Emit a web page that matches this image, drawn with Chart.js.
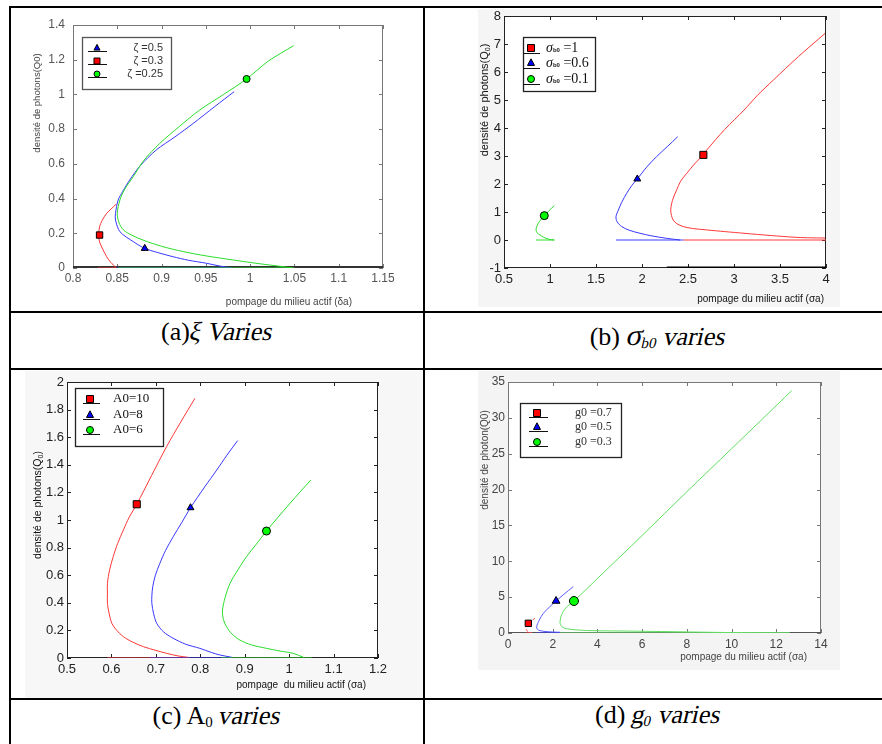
<!DOCTYPE html>
<html><head><meta charset="utf-8">
<script src="https://cdn.jsdelivr.net/npm/chart.js@4.4.1/dist/chart.umd.min.js"></script>
<style>
body{margin:0;width:882px;height:744px;background:#fff;position:relative;overflow:hidden;font-family:"Liberation Serif",serif;}
.ln{position:absolute;background:#000;}
canvas{position:absolute;}
.cap{position:absolute;text-align:center;font-size:26px;line-height:30px;color:#000;white-space:nowrap;font-family:"Liberation Serif","Times New Roman",serif;}
.it{display:inline-block;font-style:normal;transform:skewX(-13deg);}
.cap sub{font-size:15px;vertical-align:-3px;line-height:0;}
</style></head><body>
<div class="ln" style="left:9px;top:6px;width:873px;height:2px"></div>
<div class="ln" style="left:9px;top:6px;width:2px;height:738px"></div>
<div class="ln" style="left:423px;top:6px;width:2px;height:738px"></div>
<div class="ln" style="left:9px;top:311px;width:873px;height:2px"></div>
<div class="ln" style="left:9px;top:368px;width:873px;height:2px"></div>
<div class="ln" style="left:9px;top:698px;width:873px;height:2px"></div>

<canvas id="ca" width="410" height="301" style="left:12px;top:9px"></canvas>
<canvas id="cb" width="362" height="298" style="left:478px;top:9px"></canvas>
<canvas id="cc" width="398" height="327" style="left:25px;top:371px"></canvas>
<canvas id="cd" width="362" height="299" style="left:478px;top:371px"></canvas>

<div class="cap" style="left:11px;width:412px;top:317px">(a)<span class="it">ξ Varies</span></div>
<div class="cap" style="left:440px;width:436px;top:320px">(b) <span class="it"><span style="font-size:30px">σ</span><sub>b0</sub></span> <span class="it">varies</span></div>
<div class="cap" style="left:11px;width:412px;top:701px">(c) A<sub>0</sub> <span class="it">varies</span></div>
<div class="cap" style="left:440px;width:436px;top:700px">(d) <span class="it">g<sub>0</sub></span> <span class="it">varies</span></div>

<script>
// ---------------- DATA ----------------
// (a) xi varies
const aXTicks = ['0.8','0.85','0.9','0.95','1','1.05','1.1','1.15'];
const aYTicks = ['0','0.2','0.4','0.6','0.8','1','1.2','1.4'];
const aZeta05 = [[0.982,1.016],[0.96,0.93],[0.936,0.834],[0.915,0.755],[0.894,0.680],[0.876,0.59],[0.864,0.507],[0.856,0.44],[0.851,0.392],[0.848,0.315],[0.848,0.276],[0.853,0.209],[0.868,0.152],[0.881,0.113],[0.895,0.09],[0.913,0.065],[0.93,0.045],[0.951,0.027],[0.965,0.012],[0.979,0.0]];
const aZeta03 = [[0.849,0.369],[0.843,0.34],[0.838,0.315],[0.833,0.275],[0.830,0.238],[0.829,0.19],[0.830,0.15],[0.834,0.104],[0.838,0.065],[0.842,0.036],[0.846,0.015],[0.849,0]];
const aZeta025 = [[1.049,1.281],[1.02,1.19],[0.996,1.089],[0.97,1.0],[0.943,0.910],[0.92,0.815],[0.898,0.718],[0.88,0.62],[0.868,0.526],[0.858,0.45],[0.853,0.392],[0.850,0.315],[0.852,0.26],[0.857,0.219],[0.866,0.19],[0.879,0.161],[0.90,0.125],[0.925,0.094],[0.95,0.07],[0.981,0.046],[1.01,0.025],[1.037,0.008],[1.048,0.0]];
const aBase05 = [[0.849,0],[0.979,0]];
const aBase03 = [[0.828,0],[0.849,0]];
const aBase025 = [[0.851,0],[1.05,0]];
const aMark05 = [[0.881,0.113]];
const aMark03 = [[0.830,0.19]];
const aMark025 = [[0.996,1.089]];
const aLabels = ['ζ =0.5','ζ =0.3','ζ =0.25'];

// (b) sigma_b0 varies
const bXTicks = ['0.5','1','1.5','2','2.5','3','3.5','4'];
const bYTicks = ['-1','0','1','2','3','4','5','6','7','8'];
const bSig1 = [[3.99,7.38],[3.7,6.55],[3.427,5.71],[3.25,5.15],[3.109,4.64],[2.9,3.95],[2.703,3.21],[2.667,3.04],[2.58,2.75],[2.486,2.38],[2.42,2.1],[2.377,1.79],[2.34,1.5],[2.323,1.31],[2.312,1.07],[2.32,0.88],[2.34,0.71],[2.38,0.58],[2.449,0.48],[2.55,0.41],[2.703,0.36],[2.9,0.30],[3.109,0.24],[3.4,0.16],[3.652,0.10],[3.8,0.08],[3.99,0.07]];
const bSig06 = [[2.388,3.69],[2.28,3.35],[2.159,2.98],[2.05,2.6],[1.949,2.18],[1.89,1.95],[1.834,1.67],[1.78,1.35],[1.743,1.07],[1.717,0.83],[1.73,0.65],[1.779,0.48],[1.86,0.35],[1.978,0.24],[2.1,0.15],[2.268,0.06],[2.413,0]];
const bSig01 = [[1.047,1.23],[0.99,1.05],[0.938,0.87],[0.90,0.72],[0.873,0.60],[0.855,0.47],[0.848,0.36],[0.86,0.26],[0.891,0.18],[0.93,0.1],[0.982,0.03],[1.047,0]];
const bBase1 = [[2.45,0],[4,0]];
const bBase06 = [[1.717,0],[2.45,0]];
const bBase01 = [[0.848,0],[1.047,0]];
const bMark1 = [[2.667,3.04]];
const bMark06 = [[1.949,2.18]];
const bMark01 = [[0.938,0.87]];
const bAxisBar = [[2.27,-1],[4,-1]];
const bLabels = ['=1','=0.6','=0.1'];

// (c) A0 varies
const cXTicks = ['0.5','0.6','0.7','0.8','0.9','1','1.1','1.2'];
const cYTicks = ['0','0.2','0.4','0.6','0.8','1','1.2','1.4','1.6','1.8','2'];
const cA10 = [[0.788,1.882],[0.756,1.71],[0.724,1.531],[0.69,1.32],[0.657,1.114],[0.64,1.02],[0.627,0.928],[0.614,0.83],[0.604,0.734],[0.596,0.64],[0.591,0.541],[0.591,0.47],[0.591,0.396],[0.595,0.32],[0.601,0.251],[0.612,0.2],[0.627,0.154],[0.648,0.115],[0.672,0.082],[0.7,0.055],[0.724,0.034],[0.75,0.015],[0.773,0.005]];
const cA8 = [[0.884,1.575],[0.86,1.47],[0.837,1.362],[0.81,1.24],[0.778,1.089],[0.758,0.98],[0.739,0.879],[0.722,0.78],[0.709,0.686],[0.699,0.6],[0.693,0.517],[0.691,0.45],[0.691,0.396],[0.695,0.32],[0.702,0.251],[0.717,0.19],[0.739,0.143],[0.767,0.1],[0.799,0.070],[0.825,0.04],[0.844,0.022],[0.871,0.005]];
const cA6 = [[1.049,1.290],[1.025,1.205],[1.002,1.121],[0.975,1.02],[0.949,0.920],[0.925,0.82],[0.904,0.734],[0.885,0.64],[0.867,0.541],[0.856,0.44],[0.850,0.348],[0.852,0.28],[0.859,0.227],[0.871,0.175],[0.889,0.130],[0.915,0.095],[0.949,0.070],[0.98,0.05],[1.009,0.034],[1.032,0.005]];
const cBase10 = [[0.591,0],[0.775,0]];
const cBase8 = [[0.687,0],[0.871,0]];
const cBase6 = [[0.848,0],[1.051,0]];
const cMark10 = [[0.657,1.114]];
const cMark8 = [[0.778,1.089]];
const cMark6 = [[0.949,0.920]];
const cLabels = ['A0=10','A0=8','A0=6'];

// (d) g0 varies
const dXTicks = ['0','2','4','6','8','10','12','14'];
const dYTicks = ['0','5','10','15','20','25','30','35'];
const dG07 = [[1.21,2.05],[1.05,1.7],[0.91,1.35],[0.82,0.95],[0.80,0.65],[0.85,0.3],[0.95,0.1],[1.06,0]];
const dG05 = [[2.92,6.46],[2.5,5.4],[2.15,4.46],[1.85,3.6],[1.58,2.74],[1.4,1.8],[1.28,0.88],[1.32,0.5],[1.43,0.33],[1.7,0.2],[2.0,0.14],[2.33,0.1]];
const dG03 = [[12.69,33.79],[10,25.7],[8,19.7],[6,13.6],[4,7.6],[2.95,4.46],[2.65,3.7],[2.47,3.0],[2.36,2.2],[2.33,1.35],[2.42,0.85],[2.62,0.6],[3.0,0.45],[3.67,0.33],[5,0.28],[6.5,0.22],[8,0.15],[10,0.06],[12.6,0]];
const dBase07 = [[0.80,0],[1.06,0]];
const dBase05 = [[1.28,0],[2.3,0]];
const dBase03 = [[2.33,0],[12.6,0]];
const dMark07 = [[0.91,1.35]];
const dMark05 = [[2.15,4.46]];
const dMark03 = [[2.95,4.46]];
const dLabels = ['g0 =0.7','g0 =0.5','g0 =0.3'];

// ---------------- STYLE ----------------
const RED='#ff3838', BLUE='#3838ff', GREEN='#2ade2a';
const MRED='#ff0000', MBLUE='#0000ff', MGREEN='#00ff00';
const SANS='"Liberation Sans", Arial, sans-serif';
const SERIF='"Liberation Serif", "Times New Roman", serif';
const panelCfg = {};

function drawRuns(ctx, runs, x, y, align){
  let total=0;
  runs.forEach(r=>{ctx.font=r.f; r.w=ctx.measureText(r.t).width; total+=r.w;});
  let sx = align==='right'? x-total : align==='center'? x-total/2 : x;
  ctx.textBaseline='middle'; ctx.textAlign='left';
  runs.forEach(r=>{ctx.font=r.f; ctx.fillText(r.t, sx, y+(r.dy||0)); sx+=r.w;});
}
function drawMarker(ctx, style, x, y, r, fill){
  ctx.save(); ctx.fillStyle=fill; ctx.strokeStyle='#000'; ctx.lineWidth=1;
  ctx.beginPath();
  if(style==='rect'){ctx.rect(x-r,y-r,2*r,2*r);}
  else if(style==='triangle'){ctx.moveTo(x,y-r*1.2);ctx.lineTo(x+r,y+r*0.7);ctx.lineTo(x-r,y+r*0.7);ctx.closePath();}
  else {ctx.arc(x,y,r,0,Math.PI*2);}
  ctx.fill(); ctx.stroke(); ctx.restore();
}

const panelPlugin = {
  id:'panelPlugin',
  beforeDraw(chart){
    const c=panelCfg[chart.canvas.id], ctx=chart.ctx, a=chart.chartArea;
    ctx.save(); ctx.fillStyle=c.bg; ctx.fillRect(0,0,chart.width,chart.height);
    ctx.fillStyle='#fff'; ctx.fillRect(a.left,a.top,a.right-a.left,a.bottom-a.top); ctx.restore();
  },
  beforeDatasetsDraw(chart){
    const c=panelCfg[chart.canvas.id], ctx=chart.ctx, a=chart.chartArea;
    const xs=chart.scales.x, ys=chart.scales.y;
    ctx.save(); ctx.strokeStyle=c.frame; ctx.lineWidth=1;
    ctx.strokeRect(a.left+0.5,a.top+0.5,a.right-a.left-1,a.bottom-a.top-1);
    ctx.beginPath();
    xs.ticks.forEach(t=>{const p=Math.round(xs.getPixelForValue(t.value))+0.5;
      ctx.moveTo(p,a.bottom); ctx.lineTo(p,a.bottom-4); ctx.moveTo(p,a.top); ctx.lineTo(p,a.top+4);});
    ys.ticks.forEach(t=>{const p=Math.round(ys.getPixelForValue(t.value))+0.5;
      ctx.moveTo(a.left,p); ctx.lineTo(a.left+4,p); ctx.moveTo(a.right,p); ctx.lineTo(a.right-4,p);});
    ctx.stroke();
    ctx.strokeStyle=c.bottomColor; ctx.lineWidth=c.bottomWidth;
    ctx.beginPath(); ctx.moveTo(a.left,a.bottom-c.bottomWidth/2); ctx.lineTo(a.right,a.bottom-c.bottomWidth/2); ctx.stroke();
    ctx.restore();
  },
  afterDraw(chart){
    const c=panelCfg[chart.canvas.id], ctx=chart.ctx, a=chart.chartArea;
    ctx.save();
    ctx.fillStyle=c.titleColor;
    drawRuns(ctx, c.xTitle.runs, c.xTitle.right, c.xTitle.cy, 'right');
    ctx.save(); ctx.translate(c.yTitle.cx, c.yTitle.cy); ctx.rotate(-Math.PI/2);
    drawRuns(ctx, c.yTitle.runs, 0, 0, 'center'); ctx.restore();
    const L=c.legend, bx=a.left+L.dx, by=a.top+L.dy;
    ctx.fillStyle='#fff'; ctx.fillRect(bx,by,L.w,L.h);
    ctx.strokeStyle=L.border; ctx.lineWidth=1.3; ctx.strokeRect(bx+0.5,by+0.5,L.w,L.h);
    L.entries.forEach((e,i)=>{
      const ry=by+L.rows[i];
      ctx.strokeStyle='#111'; ctx.lineWidth=1;
      ctx.beginPath(); ctx.moveTo(bx+L.line[0], ry+L.lineDy+0.5); ctx.lineTo(bx+L.line[1], ry+L.lineDy+0.5); ctx.stroke();
      drawMarker(ctx, e.m, bx+L.mx, ry, L.mr, e.c);
      ctx.fillStyle=L.color;
      drawRuns(ctx, e.runs, bx+L.tx, ry, L.align);
    });
    ctx.restore();
  }
};

function lineDs(pts,color,opts){
  return Object.assign({type:'scatter',data:pts.map(p=>({x:p[0],y:p[1]})),showLine:true,borderColor:color,
    backgroundColor:color,borderWidth:1,pointRadius:0,tension:0.3,fill:false},opts||{});
}
function markDs(pts,style,fill,r){
  return {type:'scatter',data:pts.map(p=>({x:p[0],y:p[1]})),showLine:false,pointStyle:style,
    pointRadius:r,backgroundColor:fill,borderColor:'#000',borderWidth:1,pointHoverRadius:r};
}

function makePanel(id, c){
  panelCfg[id]=c;
  const cv=document.getElementById(id), W=cv.width, H=cv.height, p=c.plot;
  const axis=(ticks,min,max,isX)=>({
    type:'linear', min:min, max:max, position:isX?'bottom':'left',
    afterBuildTicks:s=>{s.ticks=ticks.map(v=>({value:parseFloat(v)}));},
    afterFit:s=>{ if(isX){s.height=H-p.b;} else {s.width=p.l;}
      s.paddingLeft=0;s.paddingRight=0;s.paddingTop=0;s.paddingBottom=0;},
    grid:{display:false,drawTicks:false},
    border:{display:false},
    ticks:{autoSkip:false,maxRotation:0,minRotation:0,padding:isX?c.xPad:c.yPad,color:c.tickColor,
      font:{family:SANS,size:c.tickSize},callback:(v,i)=>ticks[i]}
  });
  new Chart(cv,{
    type:'scatter',
    data:{datasets:c.datasets},
    options:{responsive:false,animation:false,devicePixelRatio:1,
      layout:{padding:{left:0,top:p.t,right:W-p.r,bottom:0}},
      plugins:{legend:{display:false},tooltip:{enabled:false}},
      scales:{x:axis(c.xTicks,c.xMin,c.xMax,true), y:axis(c.yTicks,c.yMin,c.yMax,false)}
    },
    plugins:[panelPlugin]
  });
}

const ylab=(txt,size)=>[{t:txt,f:size+'px '+SANS}];
const ylabSub=(size)=>[{t:'densité de photons(Q',f:size+'px '+SANS},{t:'0',f:Math.round(size*0.65)+'px '+SANS,dy:3},{t:')',f:size+'px '+SANS}];
const sigRuns=(t)=>[{t:'σ',f:'italic 14px '+SERIF},{t:'b0',f:'bold 6px '+SANS,dy:2},{t:' '+t,f:'14px '+SERIF}];

// (a)
makePanel('ca',{
  plot:{l:61,t:16,r:371,b:259}, bg:'#fff', frame:'#777', bottomColor:'#333', bottomWidth:2,
  xTicks:aXTicks, yTicks:aYTicks, xMin:0.8, xMax:1.15, yMin:0, yMax:1.4,
  xPad:3, yPad:8, tickSize:12, tickColor:'#555', titleColor:'#444',
  xTitle:{runs:ylab('pompage du milieu actif (δa)',10), right:340, cy:293},
  yTitle:{runs:ylab('densité de photons(Q0)',9.5), cx:25, cy:94},
  legend:{dx:9,dy:12,w:89,h:52,rows:[11,24,37],mx:15,mr:3,line:[6,25],lineDy:3,tx:81,align:'right',border:'#555',color:'#333',
    entries:[{m:'triangle',c:MBLUE,runs:[{t:aLabels[0],f:'11px '+SANS}]},
             {m:'rect',c:MRED,runs:[{t:aLabels[1],f:'11px '+SANS}]},
             {m:'circle',c:MGREEN,runs:[{t:aLabels[2],f:'11px '+SANS}]}]},
  datasets:[markDs(aMark05,'triangle',MBLUE,4),markDs(aMark03,'rect',MRED,4.5),markDs(aMark025,'circle',MGREEN,3.5),
    lineDs(aBase025,GREEN),lineDs(aZeta025,GREEN),lineDs(aBase05,BLUE),lineDs(aZeta05,BLUE),lineDs(aBase03,RED),lineDs(aZeta03,RED)]
});

// (b)
makePanel('cb',{
  plot:{l:26,t:7,r:348,b:259}, bg:'#f5f5f5', frame:'#222', bottomColor:'#222', bottomWidth:1,
  xTicks:bXTicks, yTicks:bYTicks, xMin:0.5, xMax:4, yMin:-1, yMax:8,
  xPad:4, yPad:3, tickSize:13, tickColor:'#222', titleColor:'#111',
  xTitle:{runs:ylab('pompage du milieu actif (σa)',10), right:346, cy:290},
  yTitle:{runs:ylabSub(11), cx:7, cy:91},
  legend:{dx:19,dy:21,w:72,h:54,rows:[11,26,42],mx:8,mr:3.5,line:[0,17],lineDy:5,tx:23,align:'left',border:'#222',color:'#111',
    entries:[{m:'rect',c:MRED,runs:sigRuns(bLabels[0])},{m:'triangle',c:MBLUE,runs:sigRuns(bLabels[1])},{m:'circle',c:MGREEN,runs:sigRuns(bLabels[2])}]},
  datasets:[markDs(bMark1,'rect',MRED,5),markDs(bMark06,'triangle',MBLUE,4),markDs(bMark01,'circle',MGREEN,4),
    lineDs(bBase01,GREEN),lineDs(bSig01,GREEN),lineDs(bBase06,BLUE),lineDs(bSig06,BLUE),lineDs(bBase1,RED),lineDs(bSig1,RED),
    lineDs(bAxisBar,'#000',{borderWidth:3,tension:0})]
});

// (c)
makePanel('cc',{
  plot:{l:42,t:11,r:353,b:287}, bg:'#f7f7f7', frame:'#222', bottomColor:'#222', bottomWidth:1,
  xTicks:cXTicks, yTicks:cYTicks, xMin:0.5, xMax:1.2, yMin:0, yMax:2,
  xPad:4, yPad:3, tickSize:13, tickColor:'#222', titleColor:'#111',
  xTitle:{runs:ylab('pompage  du milieu actif (σa)',10), right:341, cy:314},
  yTitle:{runs:ylabSub(10.5), cx:13, cy:134},
  legend:{dx:8,dy:6,w:88,h:58,rows:[11,27,42],mx:15,mr:3.5,line:[8,25],lineDy:4,tx:38,align:'left',border:'#222',color:'#111',
    entries:[{m:'rect',c:MRED,runs:[{t:cLabels[0],f:'13px '+SERIF}]},{m:'triangle',c:MBLUE,runs:[{t:cLabels[1],f:'13px '+SERIF}]},{m:'circle',c:MGREEN,runs:[{t:cLabels[2],f:'13px '+SERIF}]}]},
  datasets:[markDs(cMark10,'rect',MRED,5),markDs(cMark8,'triangle',MBLUE,4),markDs(cMark6,'circle',MGREEN,4),
    lineDs(cBase6,GREEN),lineDs(cA6,GREEN),lineDs(cBase8,BLUE),lineDs(cA8,BLUE),lineDs(cBase10,RED),lineDs(cA10,RED)]
});

// (d)
makePanel('cd',{
  plot:{l:30,t:11,r:343,b:262}, bg:'#f4f4f4', frame:'#777', bottomColor:'#555', bottomWidth:1,
  xTicks:dXTicks, yTicks:dYTicks, xMin:0, xMax:14, yMin:0, yMax:35,
  xPad:4, yPad:3, tickSize:12, tickColor:'#444', titleColor:'#444',
  xTitle:{runs:ylab('pompage du milieu actif (σa)',10), right:329, cy:286},
  yTitle:{runs:ylab('densité de photon(Q0)',10), cx:7, cy:89},
  legend:{dx:12,dy:21,w:101,h:54,rows:[10,24,39],mx:17,mr:3.5,line:[9,28],lineDy:4,tx:55,align:'left',border:'#222',color:'#333',
    entries:[{m:'rect',c:MRED,runs:[{t:dLabels[0],f:'12px '+SERIF}]},{m:'triangle',c:MBLUE,runs:[{t:dLabels[1],f:'12px '+SERIF}]},{m:'circle',c:MGREEN,runs:[{t:dLabels[2],f:'12px '+SERIF}]}]},
  datasets:[markDs(dMark07,'rect',MRED,4.5),markDs(dMark05,'triangle',MBLUE,4.5),markDs(dMark03,'circle',MGREEN,4.5),
    lineDs(dBase03,'#6be46b'),lineDs(dG03,'#5ee05e'),lineDs(dBase05,BLUE),lineDs(dG05,'#5a5aff'),lineDs(dBase07,RED),lineDs(dG07,'#ff5a5a',{borderDash:[3,2]})]
});
</script>
</body></html>
